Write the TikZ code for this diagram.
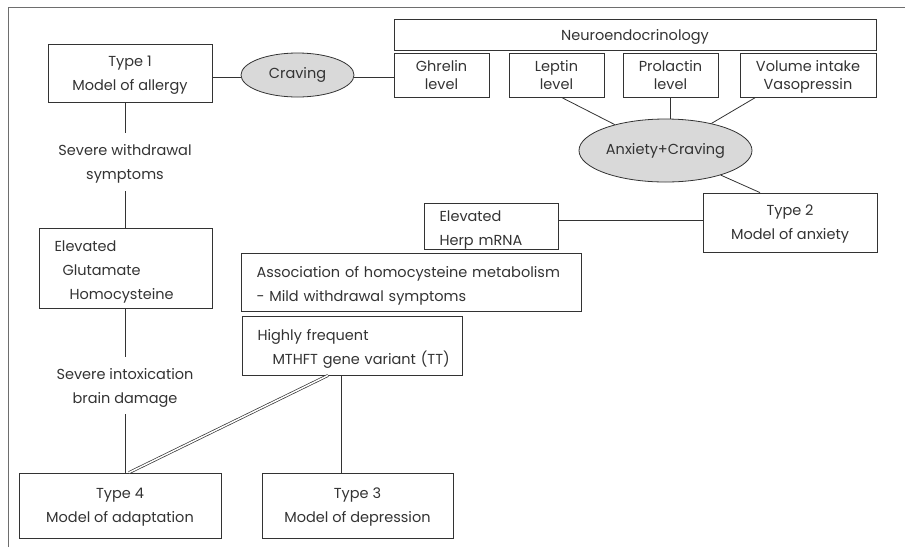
\documentclass[tikz,border=0pt]{standalone}
\usepackage{fontspec}
\setmainfont{Poppins}
\usetikzlibrary{shapes.geometric}
\definecolor{ink}{HTML}{333333}
\definecolor{framec}{HTML}{6E6E6E}
\definecolor{fillg}{HTML}{D9D9D9}
\tikzset{
  base/.style={inner sep=0pt, text=ink, font=\fontsize{14.5}{24}\selectfont},
  box/.style={base, draw=ink, line width=0.8pt, rectangle, align=center, text depth=-5.5pt},
  lbox/.style={base, draw=ink, line width=0.8pt, rectangle, align=left, inner xsep=15.5pt, text height=18.5pt},
  lvl/.style={box, font=\fontsize{14.5}{18}\selectfont},
  oval/.style={base, ellipse, draw=ink, line width=0.8pt, fill=fillg},
  lab/.style={base, align=center, text depth=-5.5pt},
  conn/.style={draw=ink, line width=0.8pt}
}
\begin{document}
\begin{tikzpicture}[x=1pt,y=-1pt]
\useasboundingbox (0,0) rectangle (905,547);
\draw[framec, line width=1pt] (8,547) -- (8,7) -- (905,7);

% top row
\node[box, minimum width=164, minimum height=58] (t1) at (130,73) {Type 1\\Model of allergy};
\node[oval, minimum width=113, minimum height=44] (crav) at (297.5,75) {Craving};
\node[box, minimum width=482, minimum height=31] (neuro) at (635,34.5) {Neuroendocrinology};
\node[lvl, minimum width=95, minimum height=44] (ghr) at (441.5,75) {Ghrelin\\level};
\node[lvl, minimum width=95, minimum height=44] (lep) at (556.5,75) {Leptin\\level};
\node[lvl, minimum width=95, minimum height=44] (pro) at (670.5,75) {Prolactin\\level};
\node[lvl, minimum width=136, minimum height=44] (vol) at (808,75) {Volume intake\\Vasopressin};
\node[oval, minimum width=173, minimum height=63] (anx) at (665.5,150.5) {Anxiety+Craving};
\node[box, minimum width=174, minimum height=59] (t2) at (790,222.5) {Type 2\\Model of anxiety};
\node[lbox, minimum width=134, minimum height=45, text width=103] (herp) at (491,226.5) {Elevated\\Herp mRNA};

% middle
\node[lbox, minimum width=340, minimum height=58, text width=309] (assoc) at (411,282) {\mbox{Association of homocysteine metabolism}\\\mbox{- Mild withdrawal symptoms}};
\node[lbox, minimum width=220, minimum height=59, text width=189] (high) at (352,345.5) {\mbox{Highly frequent}\\\mbox{\hspace*{15pt}MTHFT gene variant (TT)}};

% left column
\node[lab, minimum height=58] (lab1) at (125,162) {Severe withdrawal\\symptoms};
\node[lbox, minimum width=173, minimum height=80, text width=142] (elev) at (125.5,268) {Elevated\\\hspace*{8pt}Glutamate\\\hspace*{15pt}Homocysteine};
\node[lab, minimum height=57] (lab2) at (125,385.5) {Severe intoxication\\brain damage};

% bottom
\node[box, minimum width=202, minimum height=65] (t4) at (120,505.5) {Type 4\\Model of adaptation};
\node[box, minimum width=191, minimum height=65] (t3) at (357.5,505.5) {Type 3\\Model of depression};

% connectors
\draw[conn] ([yshift=-4pt]t1.east) -- ([yshift=-2pt]crav.west);
\draw[conn] ([yshift=-2pt]crav.east) -- ([yshift=-2pt]ghr.west);
\draw[conn] ([xshift=5pt]lep.south) -- (anx);
\draw[conn] (pro.south) -- (pro.south |- anx.north);
\draw[conn] ([xshift=16pt]vol.south west) -- (anx);
\draw[conn] ([xshift=-30pt]t2.north) -- (anx);
\draw[conn] ([yshift=6.5pt]herp.east) -- ([yshift=6.5pt]herp.east -| t2.west);
\draw[conn] (lab1.north |- t1.south) -- (lab1.north);
\draw[conn] (lab1.south) -- (lab1.south |- elev.north);
\draw[conn] (lab2.north |- elev.south) -- (lab2.north);
\draw[conn] (lab2.south) -- (lab2.south |- t4.north);
\draw[draw=ink, line width=0.7pt, double=white, double distance=1.5pt] ([xshift=-24pt]high.south) -- ([xshift=9pt]t4.north);
\draw[conn] ([xshift=-11pt]high.south) -- ([xshift=-11pt]high.south |- t3.north);
\end{tikzpicture}
\end{document}
